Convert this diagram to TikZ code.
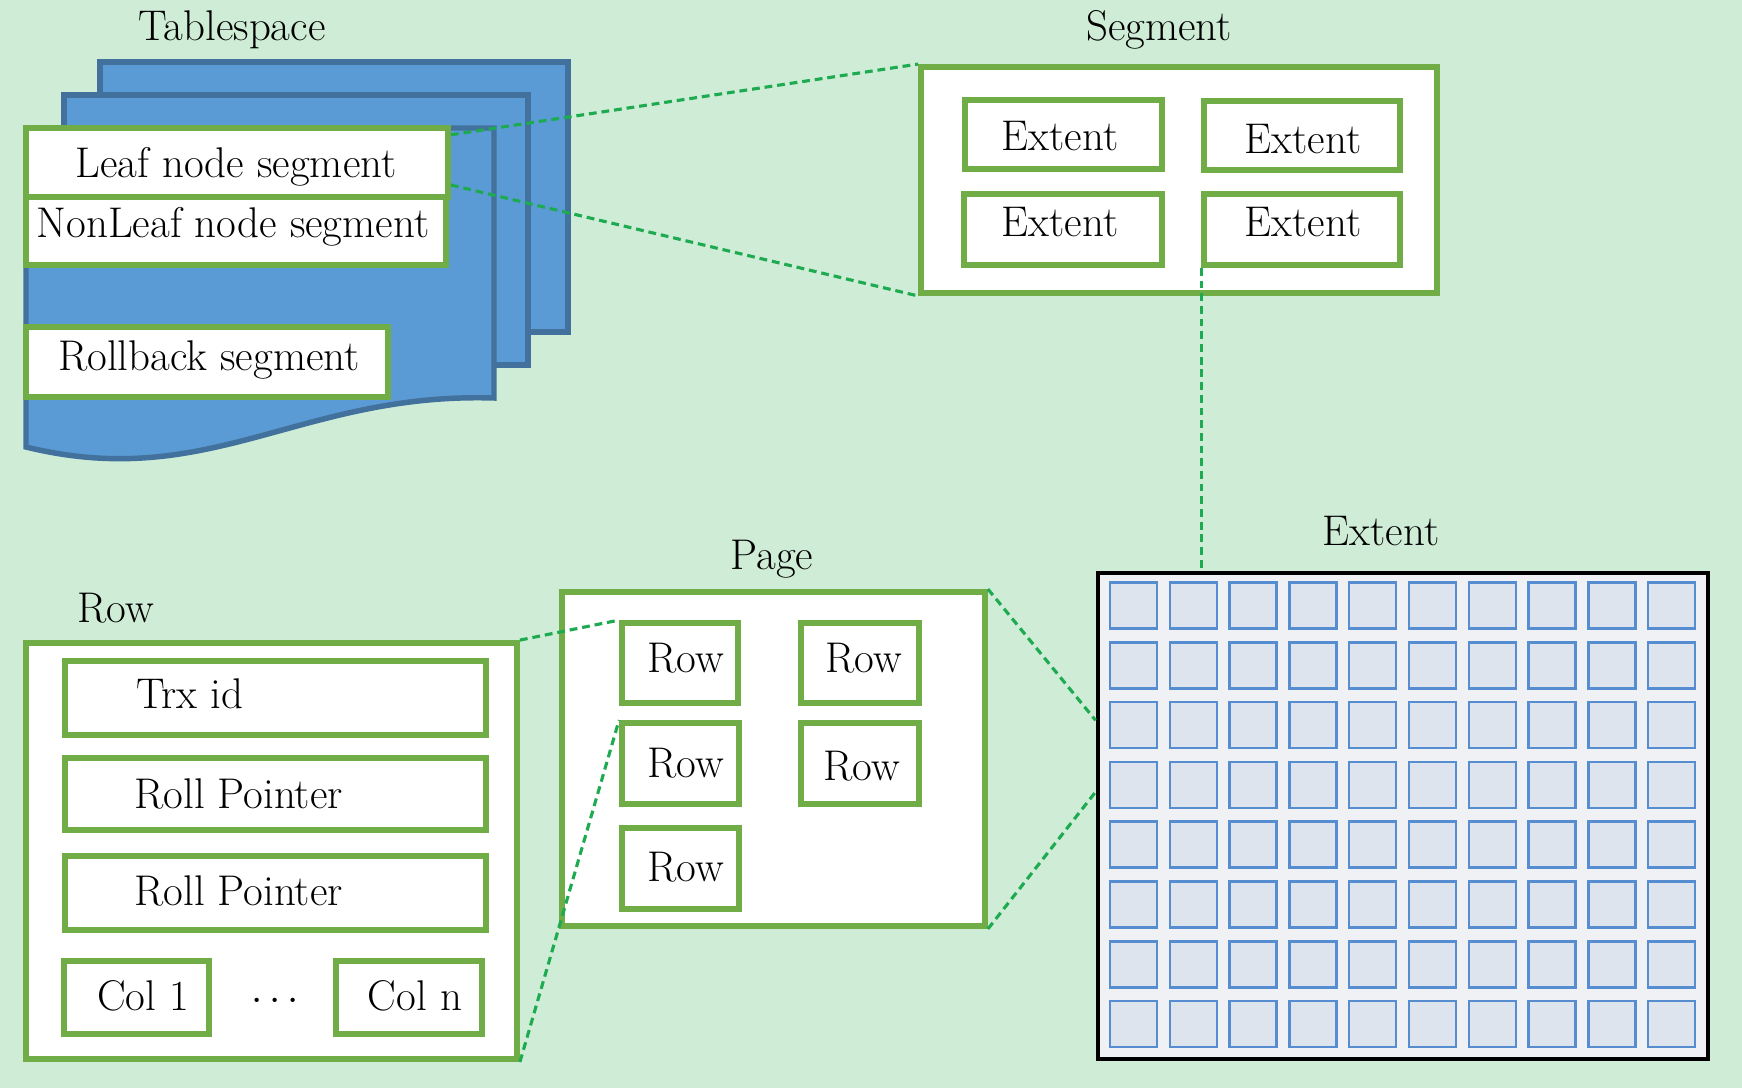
\documentclass[tikz,border=0pt]{standalone}
\usetikzlibrary{fit,calc}
\definecolor{bg}{RGB}{207,237,214}
\definecolor{gbord}{RGB}{112,173,71}
\definecolor{pagefill}{RGB}{91,155,213}
\definecolor{pageline}{RGB}{65,113,156}
\definecolor{dashg}{RGB}{30,170,80}
\definecolor{cellfill}{RGB}{221,228,238}
\definecolor{cellline}{RGB}{86,140,208}
\definecolor{extfill}{RGB}{240,241,244}
\begin{document}
\begin{tikzpicture}[x=0.018cm,y=-0.018cm,
  gbox/.style={draw=gbord, line width=3pt, fill=white, inner sep=0pt},
  txt/.style={font=\fontsize{22}{26}\selectfont, inner sep=0pt, anchor=base},
  ltxt/.style={txt, anchor=base west},
  link/.style={draw=dashg, line width=1.6pt, dash pattern=on 4pt off 2.5pt},
  docpage/.style={fill=pagefill, draw=pageline, line width=2.8pt, line join=miter},
  cell/.style={fill=cellfill, draw=cellline, line width=1.3pt}]
\useasboundingbox (0,0) rectangle (1742,1088);
\fill[bg] (0,0) rectangle (1742,1088);

% ---------------- Tablespace ----------------
\node[txt] (tslabel) at (232,40) {Tablespace};
\draw[docpage] (100,62) rectangle (568,332);
\draw[docpage] (64,95) rectangle (528,365);
\draw[docpage] (26,128) -- (494,128) -- (494,398)
  .. controls (300,392) and (210,492) .. (26,447) -- cycle;
\node[gbox, fit={(26,128) (448,197)}] (leaf) {};
\node[gbox, fit={(26,197) (446,265)}] (nonleaf) {};
\node[gbox, fit={(26,327) (388,397)}] (rollback) {};
\node[txt] (leaft) at (236,177) {Leaf node segment};
\node[txt] (nonleaft) at (233,237) {NonLeaf node segment};
\node[txt] (rollbackt) at (209,370) {Rollback segment};

% ---------------- Segment ----------------
\node[txt] (seglabel) at (1159,40) {Segment};
\node[gbox, fit={(921,67) (1437,293)}] (seg) {};
\node[gbox, fit={(965,100) (1162,169)}] (ext1) {};
\node[gbox, fit={(1204,101) (1400,170)}] (ext2) {};
\node[gbox, fit={(964,194) (1162,265)}] (ext3) {};
\node[gbox, fit={(1204,194) (1400,265)}] (ext4) {};
\node[txt] (ext1t) at (1060,150) {Extent};
\node[txt] (ext2t) at (1303,153) {Extent};
\node[txt] (ext3t) at (1060,236) {Extent};
\node[txt] (ext4t) at (1303,236) {Extent};

% ---------------- Extent ----------------
\node[txt] (extlabel) at (1381,545) {Extent};
\node[draw=black, fill=extfill, line width=2.5pt, inner sep=0pt,
      fit={(1098,573) (1708,1059)}] (bigext) {};
\foreach \i in {0,...,9}
  \foreach \j in {0,...,7}
    \draw[cell] (1110+\i*59.8,582.5+\j*59.8) rectangle ++(47,46);

% ---------------- Page ----------------
\node[txt] (pagelabel) at (772,569) {Page};
\node[gbox, fit={(562,592) (985,926)}] (page) {};
\node[gbox, fit={(622,623) (738,703)}] (r1) {};
\node[gbox, fit={(801,623) (919,703)}] (r2) {};
\node[gbox, fit={(622,723) (739,804)}] (r3) {};
\node[gbox, fit={(801,723) (919,804)}] (r4) {};
\node[gbox, fit={(622,828) (739,909)}] (r5) {};
\node[txt] (r1t) at (686,672) {Row};
\node[txt] (r2t) at (864,672) {Row};
\node[txt] (r3t) at (686,777) {Row};
\node[txt] (r4t) at (862,780) {Row};
\node[txt] (r5t) at (686,881) {Row};

% ---------------- Row ----------------
\node[txt] (rowlabel) at (116,622) {Row};
\node[gbox, fit={(26,643) (517,1059)}] (rowbox) {};
\node[gbox, fit={(65,661) (486,735)}] (trx) {};
\node[gbox, fit={(65,758) (486,830)}] (rp1) {};
\node[gbox, fit={(65,856) (486,930)}] (rp2) {};
\node[gbox, fit={(64,961) (209,1034)}] (col1) {};
\node[gbox, fit={(336,961) (482,1034)}] (coln) {};
\node[ltxt] (trxt) at (136,708) {Trx id};
\node[ltxt] (rp1t) at (134,808) {Roll Pointer};
\node[ltxt] (rp2t) at (134,905) {Roll Pointer};
\node[txt] (col1t) at (143,1010) {Col 1};
\node[txt] (colnt) at (415,1010) {Col n};
\node[txt] (dots) at (275,1010) {$\cdots$};

% ---------------- Connectors ----------------
\draw[link] ($(leaf.north east)!0.13!(leaf.south east)$) -- (seg.north west);
\draw[link] ($(leaf.north east)!0.8!(leaf.south east)$) -- (seg.south west);
\draw[link] (ext4.south west) -- (ext4.south west |- bigext.north);
\draw[link] (page.north east) -- ($(bigext.north west)!0.305!(bigext.south west)$);
\draw[link] (page.south east) -- ($(bigext.north west)!0.451!(bigext.south west)$);
\draw[link] (rowbox.north east) -- (r1.north west);
\draw[link] (rowbox.south east) -- (r3.north west);
\end{tikzpicture}
\end{document}
